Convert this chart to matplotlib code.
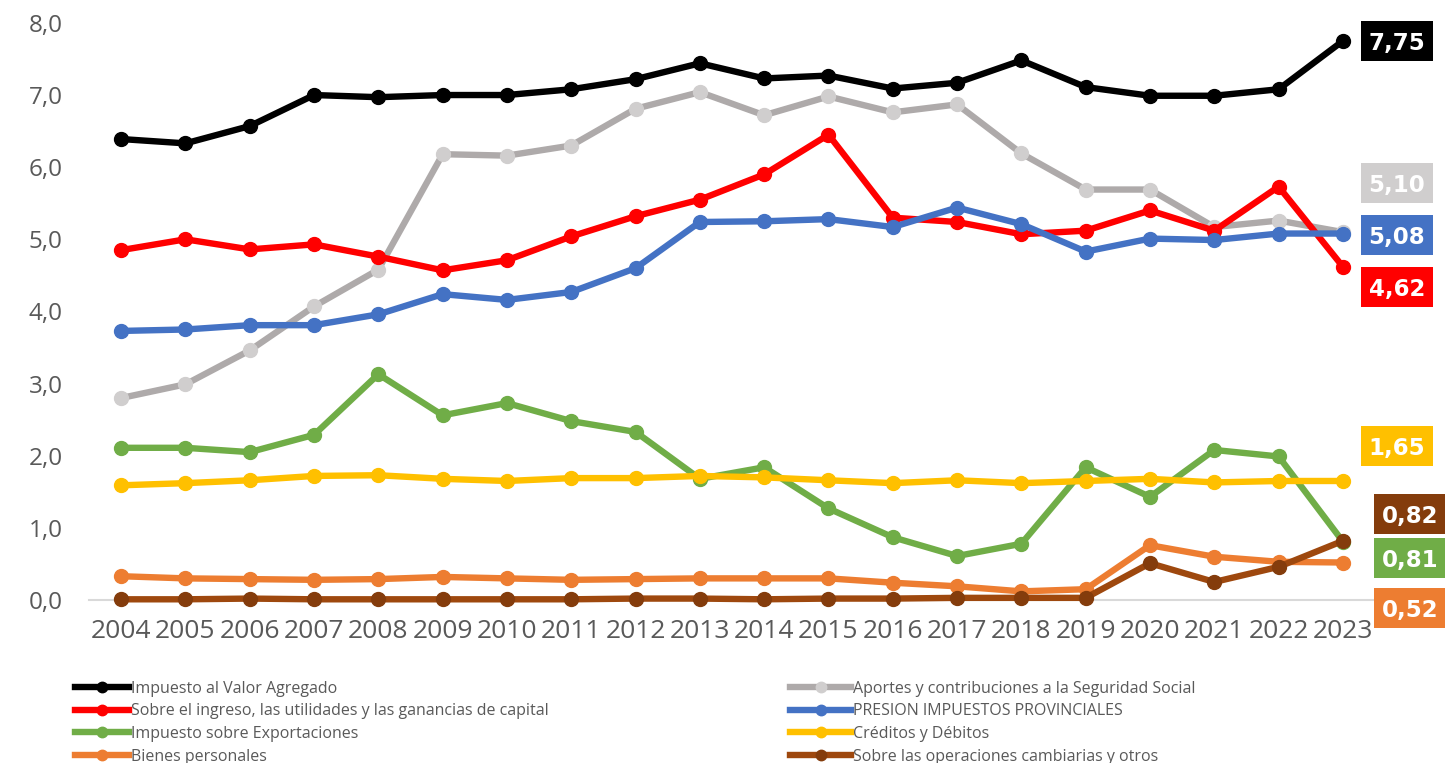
import matplotlib
matplotlib.use('Agg')
import matplotlib.pyplot as plt
import matplotlib.transforms as mtransforms
from matplotlib.patches import Rectangle
from matplotlib.ticker import FuncFormatter, MultipleLocator

plt.rcParams['font.family'] = ['Open Sans', 'DejaVu Sans']

years = [2004, 2005, 2006, 2007, 2008, 2009, 2010, 2011, 2012, 2013,
         2014, 2015, 2016, 2017, 2018, 2019, 2020, 2021, 2022, 2023]

iva = [6.39, 6.33, 6.57, 7.00, 6.97, 7.00, 7.00, 7.08, 7.22, 7.44,
       7.23, 7.27, 7.09, 7.17, 7.48, 7.11, 6.99, 6.99, 7.08, 7.75]
aportes = [2.80, 2.99, 3.46, 4.07, 4.58, 6.18, 6.16, 6.30, 6.81, 7.04,
           6.72, 6.98, 6.76, 6.87, 6.19, 5.69, 5.69, 5.17, 5.26, 5.10]
ganancias = [4.85, 5.00, 4.86, 4.93, 4.76, 4.57, 4.71, 5.04, 5.32, 5.55,
             5.90, 6.45, 5.30, 5.24, 5.07, 5.12, 5.40, 5.12, 5.73, 4.62]
provinciales = [3.73, 3.75, 3.81, 3.81, 3.96, 4.24, 4.16, 4.27, 4.60, 5.24,
                5.25, 5.28, 5.17, 5.44, 5.21, 4.83, 5.01, 4.99, 5.08, 5.08]
exportaciones = [2.11, 2.11, 2.05, 2.29, 3.13, 2.56, 2.73, 2.48, 2.33, 1.68,
                 1.84, 1.27, 0.87, 0.61, 0.78, 1.84, 1.43, 2.08, 1.99, 0.81]
creditos = [1.59, 1.62, 1.66, 1.72, 1.73, 1.68, 1.65, 1.69, 1.69, 1.72,
            1.70, 1.66, 1.62, 1.66, 1.62, 1.65, 1.68, 1.63, 1.65, 1.65]
bienes = [0.33, 0.30, 0.29, 0.28, 0.29, 0.32, 0.30, 0.28, 0.29, 0.30,
          0.30, 0.30, 0.24, 0.19, 0.12, 0.15, 0.76, 0.60, 0.53, 0.52]
cambiarias = [0.01, 0.01, 0.02, 0.01, 0.01, 0.01, 0.01, 0.01, 0.02, 0.02,
              0.01, 0.02, 0.02, 0.03, 0.03, 0.03, 0.51, 0.25, 0.46, 0.82]

# name, values, line colour, marker colour
series = [
    ('Impuesto al Valor Agregado', iva, '#000000', '#000000'),
    ('Aportes y contribuciones a la Seguridad Social', aportes, '#aeaaaa', '#d0cece'),
    ('Sobre el ingreso, las utilidades y las ganancias de capital', ganancias, '#ff0000', '#ff0000'),
    ('PRESION IMPUESTOS PROVINCIALES', provinciales, '#4472c4', '#4472c4'),
    ('Impuesto sobre Exportaciones', exportaciones, '#70ad47', '#70ad47'),
    ('Créditos y Débitos', creditos, '#ffc000', '#ffc000'),
    ('Bienes personales', bienes, '#ed7d31', '#ed7d31'),
    ('Sobre las operaciones cambiarias y otros', cambiarias, '#9e480e', '#843c0c'),
]

# end-of-line value boxes: colour and where the box sits (x, y in data units)
box_colors = ['#000000', '#d0cece', '#ff0000', '#4472c4',
              '#70ad47', '#ffc000', '#ed7d31', '#843c0c']
box_x = [2023.84, 2023.84, 2023.84, 2023.84, 2024.05, 2023.84, 2024.05, 2024.05]
box_y = [7.75, 5.78, 4.34, 5.06, 0.58, 2.13, -0.11, 1.19]

fig = plt.figure(figsize=(14.45, 7.63), dpi=100)
ax = fig.add_axes([0.0616, 0.2136, 0.890, 0.7564])

handles = []
for (name, vals, col, mcol), bcol, bx, by in zip(series, box_colors, box_x, box_y):
    h, = ax.plot(years, vals, color=col, lw=4.6, marker='o', ms=10,
                 markerfacecolor=mcol, markeredgecolor=mcol, label=name,
                 solid_joinstyle='round', clip_on=False, zorder=3)
    handles.append(h)

    # box is 0.72 x 0.40 inches centred on (bx, by)
    tr = fig.dpi_scale_trans + mtransforms.ScaledTranslation(bx, by, ax.transData)
    ax.add_patch(Rectangle((-0.36, -0.20), 0.72, 0.40, transform=tr,
                           fc=bcol, ec='none', clip_on=False, zorder=5))
    ax.text(bx, by, f'{vals[-1]:.2f}'.replace('.', ','), color='white',
            fontsize=16.5, fontweight='bold', ha='center', va='center_baseline',
            family=['DejaVu Sans'], clip_on=False, zorder=6)

ax.set_xlim(2003.5, 2023.5)
ax.set_ylim(0, 8)
ax.yaxis.set_major_locator(MultipleLocator(1))
ax.yaxis.set_major_formatter(FuncFormatter(lambda v, p: f'{v:.1f}'.replace('.', ',')))
ax.set_xticks(years)
ax.set_xticklabels([str(y) for y in years])

for s in ['top', 'right', 'left']:
    ax.spines[s].set_visible(False)
ax.spines['bottom'].set_color('#d9d9d9')
ax.spines['bottom'].set_linewidth(1.5)
ax.spines['bottom'].set_zorder(1)

ax.tick_params(axis='both', length=0, colors='#595959')
ax.tick_params(axis='x', pad=14, labelsize=19)
ax.tick_params(axis='y', pad=19, labelsize=17.5)

# two legend columns like the original
left = [handles[i] for i in (0, 2, 4, 6)]
right = [handles[i] for i in (1, 3, 5, 7)]
leg_kw = dict(frameon=False, fontsize=11.5, handletextpad=0.1,
              labelspacing=0.42, borderpad=0, borderaxespad=0, loc='upper left',
              labelcolor='#595959', markerscale=0.75)
fig.legend(handles=left, bbox_to_anchor=(0.052, 0.108), handlelength=3.4, **leg_kw)
fig.legend(handles=right, bbox_to_anchor=(0.547, 0.108), handlelength=3.8, **leg_kw)

fig.savefig('out.png', dpi=100)
